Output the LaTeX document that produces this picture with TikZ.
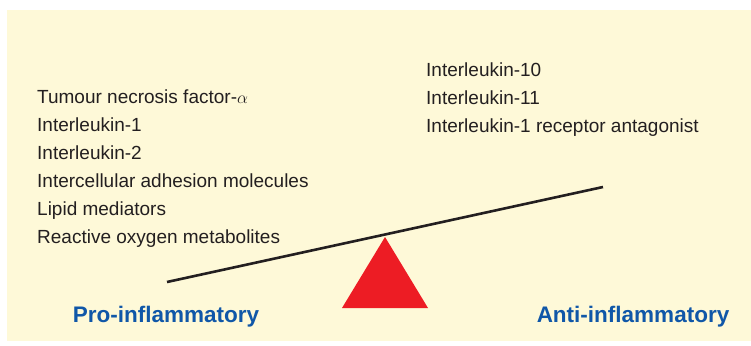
\documentclass[tikz,border=0pt]{standalone}
\usepackage{fontspec}
\setmainfont{Liberation Sans}
\usetikzlibrary{positioning}
\definecolor{paper}{HTML}{FEF9D8}
\definecolor{ink}{HTML}{231F20}
\definecolor{problue}{HTML}{1057A8}
\definecolor{pivotred}{HTML}{ED1C24}

\begin{document}
\begin{tikzpicture}[x=1pt,y=-1pt,
      items/.style={anchor=base west,align=left,inner sep=0pt,text=ink,
                    font=\fontsize{19}{28}\selectfont},
      side/.style={anchor=base,inner sep=0pt,text=problue,
                   font=\fontsize{22.5}{26}\selectfont\bfseries},
      beam/.style={line width=2.6pt,draw=ink}]
    \useasboundingbox (0,0) rectangle (751,345);
    \fill[paper] (7,10) rectangle (751,341);
    % lists on both pans (anchored at the baseline of the last line)
    \node[items] (pro) at (37,243) {Tumour necrosis factor-$\alpha$\\Interleukin-1\\Interleukin-2\\Intercellular adhesion molecules\\Lipid mediators\\Reactive oxygen metabolites};
    \node[items] (anti) at (426,132) {Interleukin-10\\Interleukin-11\\Interleukin-1 receptor antagonist};
    % balance
    \coordinate (low) at (167,282);
    \coordinate (high) at (603,187);
    \coordinate (apex) at (385,237);
    \fill[pivotred] (342,308) -- (apex) -- (428,308) -- cycle;
    \draw[beam] (low) -- (high);
    \node[side] (prolabel) at (166,322) {Pro-inflammatory};
    \node[side] (antilabel) at (633,322) {Anti-inflammatory};
\end{tikzpicture}
\end{document}
